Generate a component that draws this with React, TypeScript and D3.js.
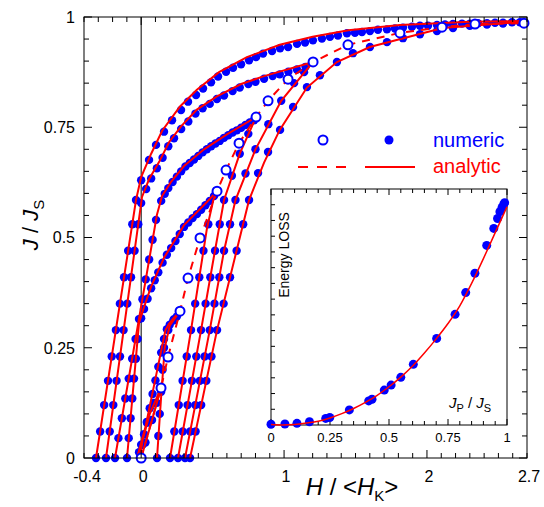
import React, { useEffect, useRef } from "react";
import * as d3 from "d3";

type P = [number, number];

// ---- main chart data: H/<HK> , J/JS ----

// analytic branches (red solid)
const upA: P[] = [[2.7, 0.991], [2.3, 0.989], [1.81, 0.982], [1.45, 0.97], [1.2, 0.955], [0.97, 0.937], [0.74, 0.909], [0.545, 0.875], [0.39, 0.835], [0.272, 0.797], [0.147, 0.742], [0.07, 0.69], [0.0, 0.637], [-0.036, 0.585], [-0.316, 0]];
const upB: P[] = [[1.203, 0.898], [0.86, 0.866], [0.7, 0.848], [0.53, 0.82], [0.39, 0.79], [0.279, 0.752], [0.195, 0.716], [0.125, 0.671], [0.055, 0.632], [0.006, 0.592], [-0.246, 0]];
const upC: P[] = [[0.804, 0.773], [0.6, 0.734], [0.44, 0.7], [0.3, 0.662], [0.209, 0.626], [0.146, 0.594], [0.11, 0.551], [-0.183, 0]];
const upD: P[] = [[0.531, 0.605], [0.45, 0.577], [0.3, 0.528], [0.16, 0.454], [0.069, 0.388], [0.02, 0.342], [-0.015, 0.306], [-0.099, 0]];
const upE: P[] = [[0.272, 0.333], [0.23, 0.318], [0.195, 0.304], [0.17, 0.29], [0.1, 0.18], [0.03, 0.07], [-0.029, 0]];
const upF: P[] = [[0.139, 0.159], [0.06, 0.1], [0.01, 0.04], [-0.01, 0]];
const loA: P[] = [[0.342, 0], [0.531, 0.29], [0.755, 0.585], [0.86, 0.67], [0.97, 0.744], [1.16, 0.84], [1.37, 0.898], [1.6, 0.932], [2.11, 0.975], [2.7, 0.99]];
const loB: P[] = [[0.307, 0], [0.48, 0.29], [0.58, 0.47], [0.66, 0.585], [0.8, 0.7], [0.98, 0.81], [1.203, 0.898]];
const loC: P[] = [[0.258, 0], [0.419, 0.29], [0.5, 0.44], [0.58, 0.585], [0.69, 0.69], [0.804, 0.773]];
const loD: P[] = [[0.202, 0], [0.349, 0.29], [0.46, 0.52], [0.505, 0.585], [0.531, 0.605]];
const loE: P[] = [[0.111, 0], [0.14, 0.14], [0.165, 0.25], [0.2, 0.3], [0.272, 0.333]];
const loF: P[] = [[0.0, 0], [0.076, 0.086], [0.139, 0.159]];

// initial (virgin) curve: open circles + dashed analytic line
const virgin: P[] = [[0, 0], [0.139, 0.159], [0.188, 0.229], [0.272, 0.333], [0.328, 0.408], [0.412, 0.499], [0.531, 0.605], [0.594, 0.653], [0.685, 0.714], [0.804, 0.773], [0.888, 0.81], [1.028, 0.859], [1.203, 0.898], [1.447, 0.937], [1.811, 0.964], [2.105, 0.977], [2.336, 0.984], [2.679, 0.986]];

// numeric points (blue dots)
const dotsUpA: P[] = [[2.651, 0.988], [2.595, 0.988], [2.532, 0.987], [2.476, 0.987], [2.42, 0.986], [2.357, 0.986], [2.301, 0.985], [2.245, 0.985], [2.182, 0.984], [2.126, 0.983], [2.07, 0.982], [2.007, 0.98], [1.951, 0.98], [1.895, 0.978], [1.832, 0.976], [1.776, 0.974], [1.72, 0.972], [1.657, 0.971], [1.601, 0.968], [1.545, 0.966], [1.496, 0.964], [1.44, 0.963], [1.377, 0.958], [1.321, 0.955], [1.265, 0.951], [1.202, 0.947], [1.147, 0.942], [1.091, 0.939], [1.028, 0.932], [0.972, 0.929], [0.916, 0.923], [0.853, 0.917], [0.804, 0.909], [0.755, 0.902], [0.699, 0.893], [0.643, 0.885], [0.594, 0.876], [0.538, 0.865], [0.489, 0.852], [0.433, 0.838], [0.384, 0.823], [0.328, 0.808], [0.279, 0.789], [0.216, 0.766], [0.16, 0.74], [0.104, 0.71], [0.055, 0.676], [0.0, 0.63], [-0.036, 0.585], [-0.062, 0.53], [-0.091, 0.47], [-0.12, 0.41], [-0.149, 0.35], [-0.177, 0.29], [-0.206, 0.23], [-0.232, 0.175], [-0.259, 0.12], [-0.287, 0.06], [-0.316, 0.0]];
const dotsUpB: P[] = [[1.15, 0.887], [1.09, 0.881], [1.03, 0.876], [0.97, 0.87], [0.92, 0.866], [0.86, 0.86], [0.8, 0.853], [0.75, 0.848], [0.69, 0.84], [0.64, 0.832], [0.58, 0.822], [0.53, 0.814], [0.48, 0.803], [0.43, 0.793], [0.38, 0.781], [0.33, 0.763], [0.28, 0.746], [0.23, 0.725], [0.19, 0.707], [0.15, 0.681], [0.11, 0.657], [0.07, 0.634], [0.035, 0.61], [0.0, 0.578], [-0.02, 0.53], [-0.046, 0.47], [-0.071, 0.41], [-0.097, 0.35], [-0.123, 0.29], [-0.148, 0.23], [-0.172, 0.175], [-0.195, 0.12], [-0.22, 0.06], [-0.246, 0.0]];
const dotsUpC: P[] = [[0.79, 0.766], [0.76, 0.761], [0.73, 0.755], [0.7, 0.749], [0.67, 0.743], [0.64, 0.738], [0.61, 0.732], [0.58, 0.726], [0.55, 0.719], [0.52, 0.713], [0.49, 0.707], [0.46, 0.7], [0.43, 0.693], [0.4, 0.685], [0.37, 0.677], [0.34, 0.669], [0.31, 0.661], [0.28, 0.65], [0.25, 0.638], [0.22, 0.626], [0.19, 0.612], [0.165, 0.599], [0.14, 0.583], [0.104, 0.54], [0.08, 0.495], [0.056, 0.45], [0.032, 0.405], [0.009, 0.36], [-0.015, 0.315], [-0.039, 0.27], [-0.063, 0.225], [-0.087, 0.18], [-0.111, 0.135], [-0.135, 0.09], [-0.159, 0.045], [-0.183, 0.0]];
const dotsUpD: P[] = [[0.51, 0.594], [0.48, 0.583], [0.45, 0.573], [0.42, 0.563], [0.39, 0.553], [0.36, 0.544], [0.33, 0.534], [0.3, 0.524], [0.27, 0.508], [0.24, 0.492], [0.21, 0.476], [0.18, 0.461], [0.15, 0.443], [0.12, 0.421], [0.095, 0.403], [0.07, 0.385], [0.045, 0.361], [0.02, 0.338], [0.0, 0.317], [-0.025, 0.27], [-0.037, 0.225], [-0.05, 0.18], [-0.062, 0.135], [-0.074, 0.09], [-0.087, 0.045], [-0.099, 0.0]];
const dotsUpE: P[] = [[0.25, 0.321], [0.225, 0.312], [0.2, 0.302], [0.18, 0.292], [0.16, 0.27], [0.14, 0.239], [0.12, 0.207], [0.1, 0.176], [0.08, 0.145], [0.06, 0.113], [0.04, 0.082], [0.02, 0.054], [0.0, 0.03], [-0.015, 0.013]];
const dotsUpF: P[] = [[0.09, 0.125], [0.04, 0.08], [0.01, 0.03]];
const dotsLoA: P[] = [[0.342, 0], [0.381, 0.06], [0.42, 0.12], [0.456, 0.175], [0.492, 0.23], [0.531, 0.29], [0.577, 0.35], [0.622, 0.41], [0.668, 0.47], [0.714, 0.53], [0.755, 0.585], [0.818, 0.646], [0.888, 0.694], [0.972, 0.744], [1.063, 0.796], [1.16, 0.841], [1.251, 0.868], [1.37, 0.898], [1.482, 0.918], [1.601, 0.932], [1.72, 0.943], [1.832, 0.952], [1.951, 0.961], [2.07, 0.968], [2.182, 0.975], [2.3, 0.98], [2.42, 0.983], [2.532, 0.985]];
const dotsLoB: P[] = [[0.307, 0], [0.343, 0.06], [0.379, 0.12], [0.411, 0.175], [0.444, 0.23], [0.48, 0.29], [0.513, 0.35], [0.547, 0.41], [0.58, 0.47], [0.622, 0.53], [0.66, 0.585], [0.73, 0.645], [0.8, 0.7], [0.89, 0.757], [0.98, 0.81], [1.07, 0.85], [1.14, 0.875]];
const dotsLoC: P[] = [[0.258, 0], [0.291, 0.06], [0.325, 0.12], [0.355, 0.175], [0.386, 0.23], [0.419, 0.29], [0.451, 0.35], [0.484, 0.41], [0.517, 0.47], [0.55, 0.53], [0.58, 0.585], [0.635, 0.64], [0.69, 0.69], [0.75, 0.735]];
const dotsLoD: P[] = [[0.202, 0], [0.232, 0.06], [0.263, 0.12], [0.29, 0.175], [0.319, 0.23], [0.349, 0.29], [0.378, 0.35], [0.407, 0.41], [0.436, 0.47], [0.47, 0.53]];
const dotsLoE: P[] = [[0.111, 0], [0.12, 0.05], [0.13, 0.1], [0.14, 0.15], [0.15, 0.2], [0.16, 0.25], [0.19, 0.29], [0.23, 0.315]];
const dotsLoF: P[] = [[0.03, 0.035], [0.076, 0.086], [0.11, 0.125]];

const branches = [upA, upB, upC, upD, upE, upF, loA, loB, loC, loD, loE, loF];
const dotSets = [dotsUpA, dotsUpB, dotsUpC, dotsUpD, dotsUpE, dotsUpF, dotsLoA, dotsLoB, dotsLoC, dotsLoD, dotsLoE, dotsLoF];

const xTickLabels = [-0.4, 0, 1, 2, 2.7];
const yTickLabels = [0, 0.25, 0.5, 0.75, 1];

// ---- inset: energy loss vs JP/JS ----
const insetJp = [0.0, 0.059, 0.11, 0.163, 0.232, 0.249, 0.332, 0.414, 0.428, 0.48, 0.509, 0.55, 0.603, 0.702, 0.78, 0.825, 0.864, 0.914, 0.944, 0.96, 0.97, 0.979, 0.986, 0.99];
const insetLoss = [0.003, 0.004, 0.007, 0.014, 0.028, 0.032, 0.064, 0.102, 0.109, 0.148, 0.169, 0.202, 0.257, 0.367, 0.469, 0.561, 0.643, 0.761, 0.833, 0.875, 0.904, 0.922, 0.935, 0.942];
const insetCurveJp = [0, 0.05, 0.1, 0.15, 0.2, 0.25, 0.3, 0.35, 0.4, 0.45, 0.5, 0.55, 0.6, 0.65, 0.7, 0.75, 0.8, 0.85, 0.9, 0.95, 1.0];
const insetCurveLoss = [0.002, 0.0, 0.002, 0.008, 0.016, 0.03, 0.048, 0.07, 0.096, 0.126, 0.162, 0.203, 0.25, 0.305, 0.365, 0.43, 0.505, 0.6, 0.705, 0.815, 0.925];
const insetTickLabels = [0, 0.25, 0.5, 0.75, 1];

const BLUE = "#0000ff";
const RED = "#ff0000";
const FONT = "'Liberation Sans', Arial, sans-serif";

function App() {
  const ref = useRef<SVGSVGElement>(null);

  useEffect(() => {
    const svg = d3.select(ref.current);
    svg.selectAll("*").remove();

    const width = 544;
    const height = 507;
    const margin = { top: 17, right: 17, bottom: 49, left: 84 };

    const x = d3.scaleLinear().domain([-0.4, 2.7]).range([margin.left, width - margin.right]);
    const y = d3.scaleLinear().domain([0, 1]).range([height - margin.bottom, margin.top]);
    const x0 = x.range()[0], x1 = x.range()[1], y0 = y.range()[0], y1 = y.range()[1];

    const line = d3.line<P>().x((d) => x(d[0])).y((d) => y(d[1]));

    // zero field line
    svg.append("line")
      .attr("x1", x(0)).attr("x2", x(0)).attr("y1", y0).attr("y2", y1)
      .attr("stroke", "#000").attr("stroke-width", 1);

    // numeric dots
    const dots = svg.append("g");
    dotSets.forEach((set) => {
      dots.selectAll(null)
        .data(set)
        .enter()
        .append("circle")
        .attr("cx", (d) => x(d[0]))
        .attr("cy", (d) => y(d[1]))
        .attr("r", 4.2)
        .attr("fill", BLUE);
    });

    // analytic lines
    branches.forEach((b) => {
      svg.append("path")
        .datum(b)
        .attr("fill", "none")
        .attr("stroke", RED)
        .attr("stroke-width", 2)
        .attr("d", line);
    });

    svg.append("path")
      .datum(virgin)
      .attr("fill", "none")
      .attr("stroke", RED)
      .attr("stroke-width", 2)
      .attr("stroke-dasharray", "8,7")
      .attr("d", line);

    svg.append("g")
      .selectAll("circle")
      .data(virgin)
      .enter()
      .append("circle")
      .attr("cx", (d) => x(d[0]))
      .attr("cy", (d) => y(d[1]))
      .attr("r", 4.5)
      .attr("fill", "#fff")
      .attr("stroke", BLUE)
      .attr("stroke-width", 2);

    // frame + ticks
    const axes = svg.append("g").attr("stroke", "#000").attr("stroke-width", 1);
    axes.append("rect")
      .attr("x", x0).attr("y", y1).attr("width", x1 - x0).attr("height", y0 - y1)
      .attr("fill", "none");

    const xMinor = d3.range(-4, 28).map((i) => i / 10);
    xMinor.forEach((v) => {
      const major = Math.abs(v - Math.round(v)) < 1e-6;
      const len = major ? 8 : 5;
      axes.append("line").attr("x1", x(v)).attr("x2", x(v)).attr("y1", y0).attr("y2", y0 - len);
      axes.append("line").attr("x1", x(v)).attr("x2", x(v)).attr("y1", y1).attr("y2", y1 + len);
    });
    const yMinor = d3.range(0, 21).map((i) => i / 20);
    yMinor.forEach((v) => {
      const major = Math.abs(v * 4 - Math.round(v * 4)) < 1e-6;
      const len = major ? 8 : 5;
      axes.append("line").attr("x1", x0).attr("x2", x0 + len).attr("y1", y(v)).attr("y2", y(v));
      axes.append("line").attr("x1", x1).attr("x2", x1 - len).attr("y1", y(v)).attr("y2", y(v));
    });

    svg.append("g")
      .selectAll("text")
      .data(yTickLabels)
      .enter()
      .append("text")
      .attr("x", x0 - 9)
      .attr("y", (d) => y(d))
      .attr("dy", "0.36em")
      .attr("text-anchor", "end")
      .attr("font-family", FONT)
      .attr("font-size", 16)
      .text((d) => String(d));

    svg.append("g")
      .selectAll("text")
      .data(xTickLabels)
      .enter()
      .append("text")
      .attr("x", (d) => x(d) + (d === -0.4 ? 3 : 2))
      .attr("y", y0 + 24)
      .attr("text-anchor", "middle")
      .attr("font-family", FONT)
      .attr("font-size", 16)
      .text((d) => String(d));

    // axis titles
    const yt = svg.append("text")
      .attr("transform", "translate(38,225) rotate(-90)")
      .attr("text-anchor", "middle")
      .attr("font-family", FONT)
      .attr("font-size", 22);
    yt.append("tspan").attr("font-style", "italic").text("J");
    yt.append("tspan").text(" / ");
    yt.append("tspan").attr("font-style", "italic").text("J");
    yt.append("tspan").attr("font-size", 15).attr("dy", 6).text("S");

    const xt = svg.append("text")
      .attr("x", 352)
      .attr("y", 495)
      .attr("text-anchor", "middle")
      .attr("font-family", FONT)
      .attr("font-size", 24);
    xt.append("tspan").attr("font-style", "italic").text("H");
    xt.append("tspan").text(" / <");
    xt.append("tspan").attr("font-style", "italic").text("H");
    xt.append("tspan").attr("font-size", 15).attr("dy", 6).text("K");
    xt.append("tspan").attr("dy", -6).text(">");

    // legend
    const lg = svg.append("g");
    lg.append("circle").attr("cx", 323).attr("cy", 140).attr("r", 4.5)
      .attr("fill", "#fff").attr("stroke", BLUE).attr("stroke-width", 2);
    lg.append("circle").attr("cx", 389).attr("cy", 140).attr("r", 4.5).attr("fill", BLUE);
    lg.append("text").attr("x", 433).attr("y", 147).attr("fill", BLUE)
      .attr("font-family", FONT).attr("font-size", 20).text("numeric");
    lg.append("line").attr("x1", 298).attr("x2", 346).attr("y1", 167).attr("y2", 167)
      .attr("stroke", RED).attr("stroke-width", 2).attr("stroke-dasharray", "10,9");
    lg.append("line").attr("x1", 365).attr("x2", 415).attr("y1", 167).attr("y2", 167)
      .attr("stroke", RED).attr("stroke-width", 2);
    lg.append("text").attr("x", 433).attr("y", 173).attr("fill", RED)
      .attr("font-family", FONT).attr("font-size", 20).text("analytic");

    // ---- inset ----
    const xi = d3.scaleLinear().domain([0, 1]).range([271, 507]);
    const yi = d3.scaleLinear().domain([0, 1]).range([425, 189]);
    const ix0 = 271, ix1 = 507, iy0 = 425, iy1 = 189;
    const inset = svg.append("g");
    inset.append("rect")
      .attr("x", ix0).attr("y", iy1).attr("width", ix1 - ix0).attr("height", iy0 - iy1)
      .attr("fill", "#fff").attr("stroke", "#000").attr("stroke-width", 1);

    d3.range(0, 21).map((i) => i / 20).forEach((v) => {
      const major = Math.abs(v * 4 - Math.round(v * 4)) < 1e-6;
      const len = major ? 6 : 4;
      inset.append("line").attr("x1", xi(v)).attr("x2", xi(v)).attr("y1", iy0).attr("y2", iy0 - len).attr("stroke", "#000");
      inset.append("line").attr("x1", xi(v)).attr("x2", xi(v)).attr("y1", iy1).attr("y2", iy1 + len).attr("stroke", "#000");
    });
    d3.range(1, 15).forEach((i) => {
      const yy = iy0 - (i * (iy0 - iy1)) / 15;
      inset.append("line").attr("x1", ix0).attr("x2", ix0 + 4).attr("y1", yy).attr("y2", yy).attr("stroke", "#000");
    });

    inset.selectAll("circle.d")
      .data(insetJp.map((v, i) => [v, insetLoss[i]] as P))
      .enter()
      .append("circle")
      .attr("cx", (d) => xi(d[0]))
      .attr("cy", (d) => yi(d[1]))
      .attr("r", 4.5)
      .attr("fill", BLUE);

    inset.append("path")
      .datum(insetCurveJp.map((v, i) => [v, insetCurveLoss[i]] as P))
      .attr("fill", "none")
      .attr("stroke", RED)
      .attr("stroke-width", 1.5)
      .attr("d", d3.line<P>().x((d) => xi(d[0])).y((d) => yi(d[1])).curve(d3.curveMonotoneX));

    inset.selectAll("text.t")
      .data(insetTickLabels)
      .enter()
      .append("text")
      .attr("x", (d) => xi(d))
      .attr("y", 442)
      .attr("text-anchor", "middle")
      .attr("font-family", FONT)
      .attr("font-size", 13)
      .text((d) => String(d));

    inset.append("text")
      .attr("transform", "translate(289,255) rotate(-90)")
      .attr("text-anchor", "middle")
      .attr("font-family", FONT)
      .attr("font-size", 14)
      .text("Energy LOSS");

    const it = inset.append("text")
      .attr("x", 449)
      .attr("y", 408)
      .attr("font-family", FONT)
      .attr("font-size", 15);
    it.append("tspan").attr("font-style", "italic").text("J");
    it.append("tspan").attr("font-size", 11).attr("dy", 4).text("P");
    it.append("tspan").attr("dy", -4).text(" / ");
    it.append("tspan").attr("font-style", "italic").text("J");
    it.append("tspan").attr("font-size", 11).attr("dy", 4).text("S");
  }, []);

  return (
    <svg
      ref={ref}
      width={544}
      height={507}
      style={{ position: "absolute", left: 0, top: 0, background: "#fff" }}
    />
  );
}

export default App;
